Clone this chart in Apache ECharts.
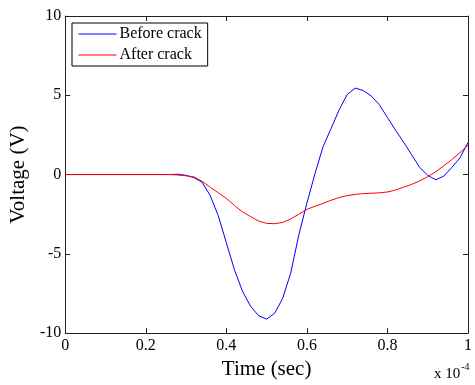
<!DOCTYPE html>
<html>
<head>
<meta charset="utf-8">
<script src="https://cdn.jsdelivr.net/npm/echarts@6/dist/echarts.min.js"></script>
<style>
  html, body {margin: 0; padding: 0; background: #fff;}
  #chart {width: 475px; height: 385px;}
</style>
</head>
<body>
<div id="chart"></div>
<script>
// time in units of 1e-4 s
var time = [0, 0.02, 0.04, 0.06, 0.08, 0.1, 0.12, 0.14, 0.16, 0.18, 0.2, 0.22, 0.24, 0.26, 0.28,
  0.3, 0.32, 0.34, 0.36, 0.38, 0.4, 0.42, 0.44, 0.46, 0.48, 0.5, 0.52, 0.54, 0.56, 0.58, 0.6,
  0.62, 0.64, 0.66, 0.68, 0.7, 0.72, 0.74, 0.76, 0.78, 0.8, 0.82, 0.84, 0.86, 0.88, 0.9,
  0.92, 0.94, 0.96, 0.98, 1.0];
var beforeCrack = [0, 0, 0, 0, 0, 0, 0, 0, 0, 0, 0, 0, 0, 0, 0.02,
  -0.05, -0.2, -0.49, -1.33, -2.6, -4.3, -6.0, -7.35, -8.3, -8.9, -9.12, -8.75, -7.8, -6.2, -3.8, -1.8,
  0.05, 1.75, 2.9, 4.08, 5.05, 5.45, 5.3, 4.95, 4.4, 3.6, 2.8, 2.05, 1.25, 0.45, -0.05,
  -0.33, -0.1, 0.45, 1.05, 2.02];
var afterCrack = [0, 0, 0, 0, 0, 0, 0, 0, 0, 0, 0, 0, 0, 0, -0.03,
  -0.08, -0.15, -0.43, -0.8, -1.15, -1.5, -1.95, -2.35, -2.65, -2.93, -3.08, -3.1, -3.02, -2.8, -2.5, -2.2,
  -2.0, -1.82, -1.62, -1.45, -1.33, -1.25, -1.2, -1.18, -1.15, -1.1, -0.98, -0.8, -0.62, -0.4, -0.13,
  0.18, 0.55, 0.95, 1.38, 1.85];

function pairs(xs, ys) {
  return xs.map(function (x, i) { return [x, ys[i]]; });
}

var font = 'Liberation Serif';
var axisColor = '#222';

var hiddenAxis = {
  axisLine: {show: true, onZero: false, lineStyle: {color: axisColor, width: 1}},
  axisTick: {inside: true, length: 5, lineStyle: {color: axisColor}},
  axisLabel: {show: false},
  splitLine: {show: false}
};

var chart = echarts.init(document.getElementById('chart'));
chart.setOption({
  animation: false,
  backgroundColor: '#fff',
  grid: {left: 65, right: 3, top: 16, bottom: 50},
  legend: {
    orient: 'vertical',
    left: 72,
    top: 23,
    padding: [3, 6, 3, 6],
    itemWidth: 38,
    itemHeight: 14,
    itemGap: 5,
    borderColor: '#000',
    borderWidth: 1,
    backgroundColor: '#fff',
    itemStyle: {opacity: 0},
    lineStyle: {width: 1},
    textStyle: {fontFamily: font, fontSize: 16, color: '#000', padding: [0, 0, 0, -2]},
    data: ['Before crack', 'After crack']
  },
  xAxis: [{
    type: 'value',
    min: 0, max: 1, interval: 0.2,
    name: 'Time (sec)',
    nameLocation: 'middle',
    nameGap: 24,
    nameTextStyle: {fontFamily: font, fontSize: 21, color: '#000'},
    axisLine: {onZero: false, lineStyle: {color: axisColor, width: 1}},
    axisTick: {inside: true, length: 5, lineStyle: {color: axisColor}},
    axisLabel: {
      fontFamily: font, fontSize: 16, color: '#000', margin: 5,
      formatter: function (v) { return String(+v.toFixed(1)); }
    },
    splitLine: {show: false}
  }, Object.assign({type: 'value', position: 'top', min: 0, max: 1, interval: 0.2}, hiddenAxis)],
  yAxis: [{
    type: 'value',
    min: -10, max: 10, interval: 5,
    name: 'Voltage (V)',
    nameLocation: 'middle',
    nameGap: 33,
    nameTextStyle: {fontFamily: font, fontSize: 21, color: '#000'},
    axisLine: {onZero: false, lineStyle: {color: axisColor, width: 1}},
    axisTick: {inside: true, length: 5, lineStyle: {color: axisColor}},
    axisLabel: {fontFamily: font, fontSize: 16, color: '#000', margin: 4},
    splitLine: {show: false}
  }, Object.assign({type: 'value', position: 'right', min: -10, max: 10, interval: 5}, hiddenAxis)],
  graphic: [{
    type: 'text',
    left: 434,
    top: 362,
    style: {
      text: '{a|x 10}{b|-4}',
      rich: {
        a: {fontFamily: font, fontSize: 15, color: '#000', verticalAlign: 'bottom', lineHeight: 20},
        b: {fontFamily: font, fontSize: 10, color: '#000', verticalAlign: 'top', lineHeight: 20, padding: [0, 0, 12, 1]}
      }
    }
  }],
  series: [{
    name: 'Before crack',
    type: 'line',
    data: pairs(time, beforeCrack),
    symbol: 'none',
    color: '#0000ff',
    lineStyle: {width: 1, color: '#0000ff'}
  }, {
    name: 'After crack',
    type: 'line',
    data: pairs(time, afterCrack),
    symbol: 'none',
    color: '#ff0000',
    lineStyle: {width: 1, color: '#ff0000'}
  }]
});
</script>
</body>
</html>
